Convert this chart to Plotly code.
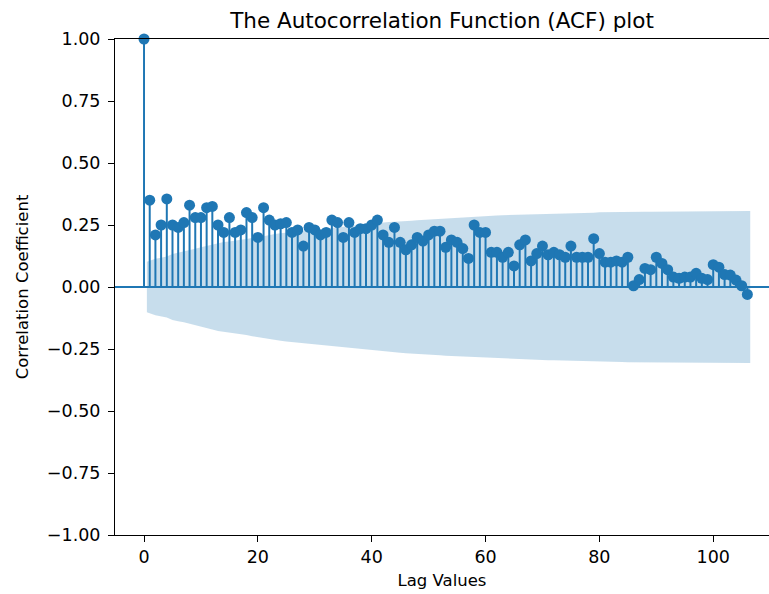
import numpy as np
import plotly.graph_objects as go

# Autocorrelation coefficients for lags 0..106
acf_values = [
    1.00, 0.35, 0.21, 0.25, 0.355, 0.25, 0.24, 0.26, 0.33, 0.28,
    0.28, 0.32, 0.325, 0.25, 0.22, 0.28, 0.22, 0.23, 0.30, 0.28,
    0.20, 0.32, 0.27, 0.25, 0.255, 0.26, 0.22, 0.23, 0.165, 0.24,
    0.23, 0.21, 0.22, 0.27, 0.26, 0.20, 0.26, 0.22, 0.235, 0.235,
    0.25, 0.27, 0.21, 0.18, 0.24, 0.18, 0.15, 0.17, 0.20, 0.185,
    0.21, 0.225, 0.225, 0.16, 0.19, 0.18, 0.155, 0.115, 0.25, 0.22,
    0.22, 0.14, 0.14, 0.12, 0.14, 0.085, 0.17, 0.19, 0.105, 0.135,
    0.165, 0.13, 0.14, 0.13, 0.12, 0.165, 0.12, 0.12, 0.12, 0.195,
    0.135, 0.10, 0.10, 0.105, 0.10, 0.12, 0.005, 0.03, 0.075, 0.07,
    0.12, 0.095, 0.07, 0.04, 0.035, 0.04, 0.04, 0.055, 0.035, 0.03,
    0.09, 0.08, 0.05, 0.048, 0.028, 0.005, -0.03,
]
lags = list(range(len(acf_values)))
n_obs = 370  # series length behind the confidence band

y_ticks = [-1.0, -0.75, -0.5, -0.25, 0.0, 0.25, 0.5, 0.75, 1.0]
x_ticks = [0, 20, 40, 60, 80, 100]

C0 = "#1f77b4"
FONT = "DejaVu Sans"

acf = np.array(acf_values)
# Bartlett 95% band around zero for lags 1..N
var = np.ones(len(acf)) / n_obs
var[2:] *= 1 + 2 * np.cumsum(acf[1:-1] ** 2)
half = 1.959964 * np.sqrt(var[1:])
band_x = np.array(lags[1:], dtype=float)
band_x[0] -= 0.5
band_x[-1] += 0.5

fig = go.Figure()

fig.add_trace(go.Scatter(
    x=np.concatenate([band_x, band_x[::-1]]),
    y=np.concatenate([half, -half[::-1]]),
    fill="toself", fillcolor="rgba(31,119,180,0.25)",
    line=dict(width=0), mode="lines", hoverinfo="skip", showlegend=False,
))

# zero line across the axes
fig.add_shape(type="line", xref="paper", yref="y", x0=0, x1=1, y0=0, y1=0,
              line=dict(color=C0, width=2))

# stems
sx, sy = [], []
for lag, v in zip(lags, acf_values):
    sx += [lag, lag, None]
    sy += [0, v, None]
fig.add_trace(go.Scatter(x=sx, y=sy, mode="lines",
                         line=dict(color=C0, width=2), showlegend=False,
                         hoverinfo="skip"))

fig.add_trace(go.Scatter(x=lags, y=acf_values, mode="markers",
                         marker=dict(color=C0, size=11), showlegend=False,
                         cliponaxis=False))

fig.update_layout(
    width=769, height=594,
    margin=dict(l=115, r=0, t=39, b=59),
    paper_bgcolor="white", plot_bgcolor="white",
    font=dict(family=FONT, size=16, color="black"),
    title=dict(text="The Autocorrelation Function (ACF) plot",
               x=(115 + 769) / 2 / 769, xanchor="center",
               y=1 - 20 / 594, yanchor="middle",
               font=dict(family=FONT, size=21.5, color="black")),
    xaxis=dict(range=[-5.1, 109.8], tickvals=x_ticks, showgrid=False,
               zeroline=False, showline=True, mirror=True,
               linecolor="black", linewidth=1, ticks="outside", ticklen=6,
               tickcolor="black", tickfont=dict(size=17.5),
               title=dict(text="Lag Values", standoff=8,
                          font=dict(family=FONT, size=16.5))),
    yaxis=dict(range=[-1, 1], tickvals=y_ticks, tickformat=".2f",
               showgrid=False, zeroline=False, showline=True,
               linecolor="black", linewidth=1, ticks="outside", ticklen=6,
               tickcolor="black", tickfont=dict(size=17.5),
               ticklabelstandoff=4,
               title=dict(text="Correlation Coefficient", standoff=14,
                          font=dict(family=FONT, size=16.5))),
)

fig.write_html("out.html")
